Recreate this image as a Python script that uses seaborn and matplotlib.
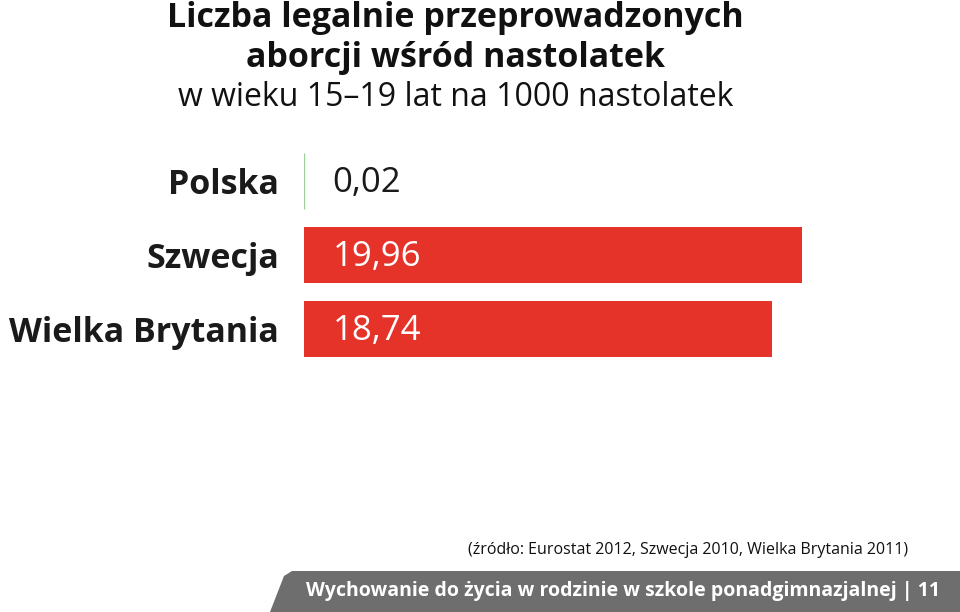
import numpy as np
import pandas as pd
import seaborn as sns
import matplotlib.pyplot as plt
from matplotlib.patches import Polygon

countries = ["Polska", "Szwecja", "Wielka Brytania"]
values    = [0.02, 19.96, 18.74]
labels    = ["0,02", "19,96", "18,74"]
colors    = {"Polska": "#9fd09a", "Szwecja": "#e5332a", "Wielka Brytania": "#e5332a"}

df = pd.DataFrame({"kraj": countries, "wartosc": values})

sns.set_theme(style="white")
plt.rcParams["font.family"] = ["Open Sans", "DejaVu Sans"]

fig = plt.figure(figsize=(9.6, 6.12), dpi=100)
ax  = fig.add_axes([304/960, 1 - 366/612, (960-304)/960, 222/612])

sns.barplot(data=df, y="kraj", x="wartosc", hue="kraj", palette=colors,
            orient="h", width=0.76, legend=False, ax=ax, linewidth=0, saturation=1)
# tiny Polska bar: draw as a thin line so it stays visible
ax.patches[0].set_edgecolor(colors["Polska"])
ax.patches[0].set_linewidth(1.0)

ax.set_xlim(0, (960-304)/24.95)
ax.set_ylim(2.5, -0.5)
ax.set_xlabel("")
ax.set_ylabel("")
ax.set_xticks([])
ax.set_yticks(range(len(countries)))
ax.set_yticklabels(countries, fontsize=24.5, fontweight="bold", color="#1a1a1a")
ax.tick_params(axis="y", length=0, pad=18)
for s in ax.spines.values():
    s.set_visible(False)

for i, (v, lab) in enumerate(zip(values, labels)):
    ax.text(1.15, i + 0.03, lab, va="center", ha="left", fontsize=25,
            color="#1a1a1a" if v < 1 else "white")

# title
fig.text(0.4745, 1 - 18/612, "Liczba legalnie przeprowadzonych", ha="center", va="center",
         fontsize=24.5, fontweight="bold", color="#111111")
fig.text(0.4745, 1 - 58/612, "aborcji wśród nastolatek", ha="center", va="center",
         fontsize=24.5, fontweight="bold", color="#111111")
fig.text(0.4745, 1 - 98/612, "w wieku 15–19 lat na 1000 nastolatek", ha="center", va="center",
         fontsize=23, color="#111111")

# source
fig.text(908/960, 1 - 550/612, "(źródło: Eurostat 2012, Szwecja 2010, Wielka Brytania 2011)",
         ha="right", va="center", fontsize=11.5, color="#111111")

# footer band
band = Polygon([(270/960, 0), (284/960, 1 - 576/612), (292/960, 1 - 571/612),
                (1, 1 - 571/612), (1, 0)], closed=True,
               transform=fig.transFigure, facecolor="#6e6e6e", edgecolor="none")
fig.patches.append(band)
fig.text(940/960, 1 - 591/612,
         "Wychowanie do życia w rodzinie w szkole ponadgimnazjalnej | 11",
         ha="right", va="center", fontsize=14, fontweight="bold", color="white")

fig.savefig("out.png", dpi=100)
